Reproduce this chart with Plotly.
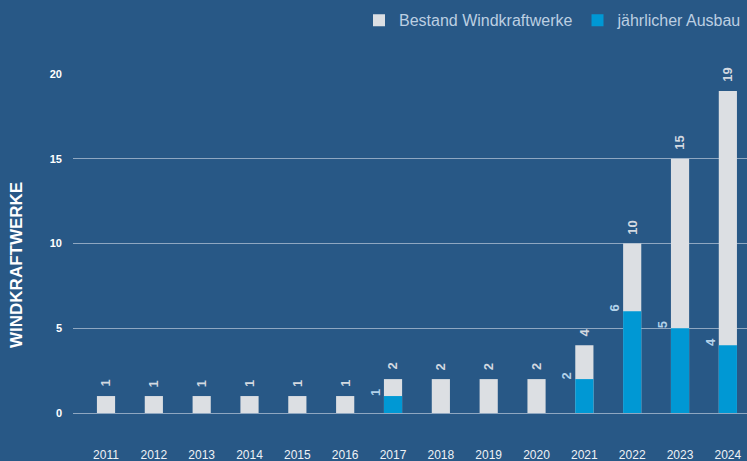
import plotly.graph_objects as go

years = ["2011", "2012", "2013", "2014", "2015", "2016", "2017", "2018", "2019", "2020", "2021", "2022", "2023", "2024"]
bestand = [1, 1, 1, 1, 1, 1, 2, 2, 2, 2, 4, 10, 15, 19]
ausbau = [None, None, None, None, None, None, 1, None, None, None, 2, 6, 5, 4]

BG = "#285886"
GRAY = "#dcdfe3"
BLUE = "#0098d4"
FONT = "Liberation Sans, Arial, Helvetica, sans-serif"

fig = go.Figure()
fig.add_trace(go.Bar(x=years, y=bestand, name="Bestand Windkraftwerke",
                     marker=dict(color=GRAY, line=dict(width=0)), width=0.38))
fig.add_trace(go.Bar(x=years, y=ausbau, name="jährlicher Ausbau",
                     marker=dict(color=BLUE, line=dict(width=0)), width=0.38))

for i, v in enumerate(bestand):
    fig.add_annotation(x=i, y=v, xref="x", yref="y", text=f"<b>{v}</b>", textangle=-90,
                       showarrow=False, yanchor="bottom", xanchor="center", yshift=7,
                       font=dict(family=FONT, size=13, color="#d3d9e0"))
for i, v in enumerate(ausbau):
    if v is None:
        continue
    fig.add_annotation(x=i, y=v, xref="x", yref="y", text=f"<b>{v}</b>", textangle=-90,
                       showarrow=False, yanchor="middle", xanchor="center", xshift=-18, yshift=3,
                       font=dict(family=FONT, size=13, color="#b3d2ea"))
fig.add_annotation(x=(16 - 73) / 674, y=1 - (265 - 74) / 339, xref="paper", yref="paper",
                   text="<b>WINDKRAFTWERKE</b>", textangle=-90, showarrow=False,
                   xanchor="center", yanchor="middle",
                   font=dict(family=FONT, size=17, color="#ffffff"))

fig.update_layout(
    width=747, height=461,
    paper_bgcolor=BG, plot_bgcolor=BG,
    margin=dict(l=73, r=0, t=74, b=48),
    barmode="overlay",
    font=dict(family=FONT, color="#ffffff"),
    legend=dict(orientation="h", x=(369 - 73) / 674, xanchor="left", y=0.993, yref="container", yanchor="top",
                font=dict(family=FONT, size=16, color="#bccfe2"), bgcolor="rgba(0,0,0,0)",
                traceorder="normal"),
    showlegend=True,
)

fig.update_xaxes(type="category", range=[-0.69, 13.4], showgrid=False, zeroline=False,
                 showline=False, ticks="", ticklabelstandoff=33, automargin=False,
                 tickfont=dict(family=FONT, size=12, color="#eef2f6"))
fig.update_yaxes(range=[0, 20], tickvals=[0, 5, 10, 15, 20], showgrid=True, automargin=False,
                 gridcolor="#8fa7c1", gridwidth=1, zeroline=True, zerolinecolor="#8fa7c1",
                 zerolinewidth=1, ticks="", ticklabelstandoff=10,
                 tickfont=dict(family=FONT, size=11, color="#ffffff", weight="bold"))

fig.write_html("out.html", config={"displayModeBar": False},
               post_script="document.body.style.margin='0';document.body.style.background='" + BG + "';")
